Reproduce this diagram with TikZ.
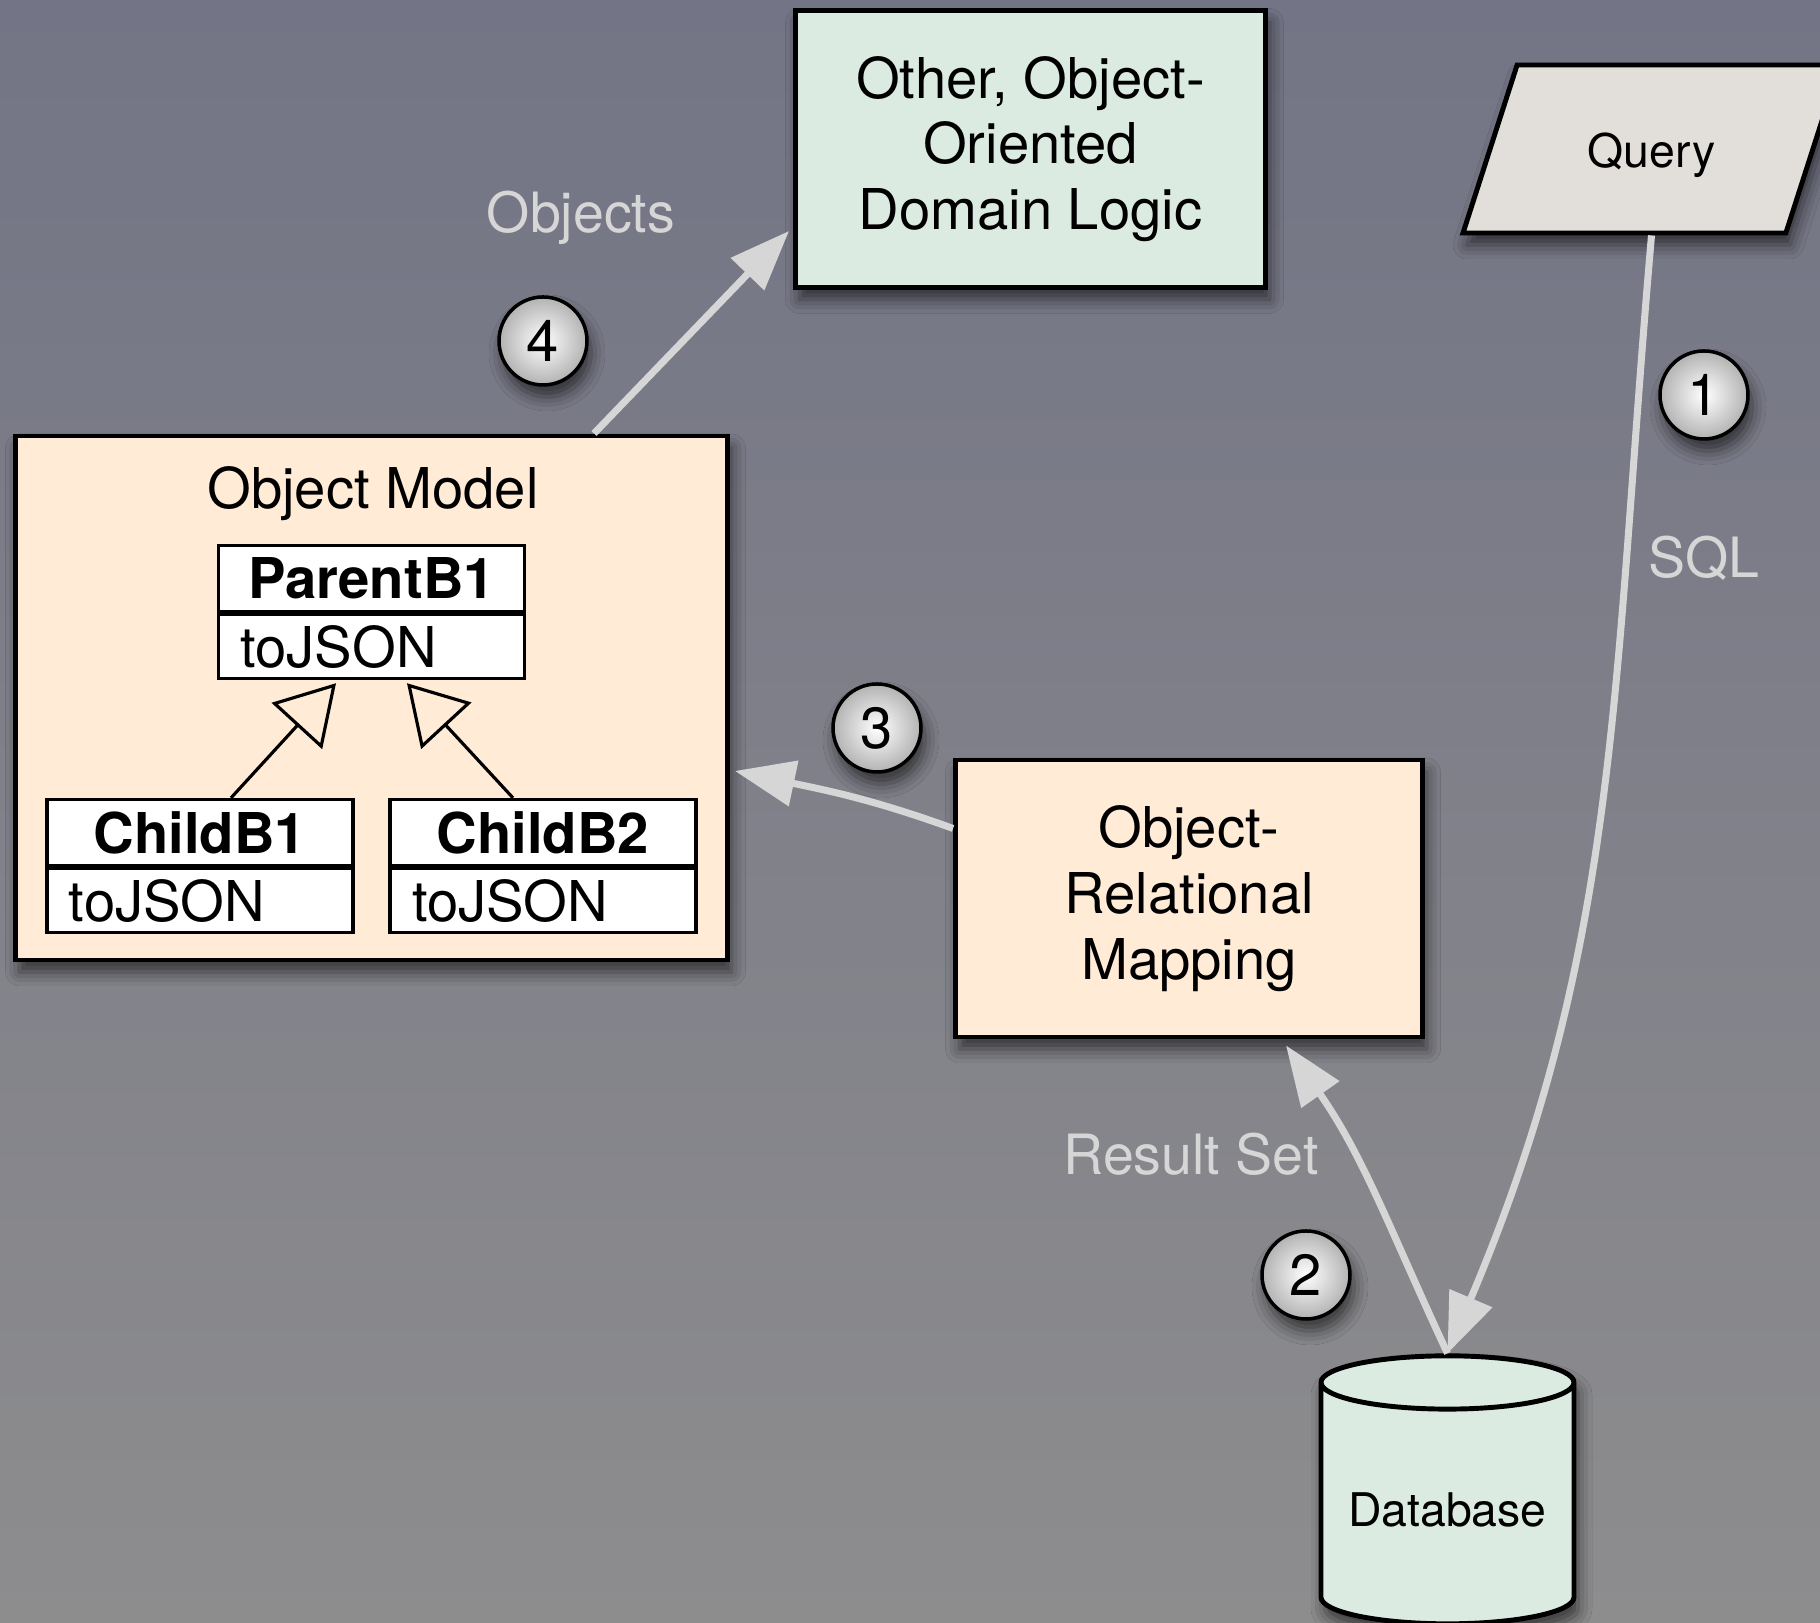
\documentclass[tikz,border=0pt]{standalone}
\usepackage{fontspec}
\setmainfont{TeX Gyre Heros}
\usetikzlibrary{positioning}
\usetikzlibrary{shapes.geometric}
\usetikzlibrary{arrows.meta}
\usetikzlibrary{shadows.blur}
\definecolor{bgtop}{RGB}{115,116,133}
\definecolor{bgbot}{RGB}{141,141,142}
\definecolor{peach}{RGB}{255,235,214}
\definecolor{mint}{RGB}{219,235,225}
\definecolor{querygrey}{RGB}{226,223,218}
\definecolor{flowgrey}{RGB}{214,214,214}
\tikzset{
  shade/.style={blur shadow={shadow xshift=0.04cm, shadow yshift=-0.12cm, shadow blur radius=0.14cm, shadow opacity=60}},
  box/.style={draw, line width=1.4pt, align=center, shade, font=\fontsize{16}{18.7}\selectfont},
  classhead/.style={draw, fill=white, line width=0.9pt, minimum width=3.06cm, minimum height=0.66cm, inner sep=0pt, font=\bfseries\fontsize{16}{16}\selectfont},
  classbody/.style={draw, fill=white, line width=0.9pt, minimum width=3.06cm, minimum height=0.64cm, inner xsep=0.22cm, inner ysep=0pt, text width=2.62cm, align=left, font=\fontsize{16}{16}\selectfont},
  badge/.style={circle, draw, line width=1pt, minimum size=0.88cm, inner sep=0pt, inner color=white, outer color=black!30, shade, font=\fontsize{16.5}{16.5}\selectfont},
  note/.style={text=flowgrey, anchor=base, font=\fontsize{15.8}{15.8}\selectfont},
  flow/.style={draw=flowgrey, line width=2pt, -{Triangle[length=0.6cm, width=0.45cm]}},
  inherit/.style={line width=0.9pt, -{Triangle[open, length=0.58cm, width=0.68cm]}}
}
\newcommand{\umlclass}[4]{ \node[classhead] (#1) at (#2) {#3}; \node[classbody, below=0pt of #1] (#1b) {#4};}
\newcommand{\stepmark}[3]{ \node[badge] (#1) at (#2) {#3};}

\begin{document}
\begin{tikzpicture}
        % background
        \clip (0,0) rectangle (18.2,16.23);
        \shade[top color=bgtop, bottom color=bgbot] (0,0) rectangle (18.2,16.23);
        % boxes
        \node[box, fill=mint, minimum width=4.70cm, minimum height=2.77cm] (dl) at (10.305,14.74) {Other, Object-\\Oriented\\Domain Logic};
        \node[box, fill=peach, minimum width=4.67cm, minimum height=2.77cm] (orm) at (11.89,7.245) {Object-\\Relational\\Mapping};
        \node[box, fill=peach, minimum width=7.12cm, minimum height=5.24cm] (om) at (3.715,9.25) {};
        \node[box, fill=querygrey, trapezium, trapezium left angle=66, trapezium right angle=114, trapezium stretches=true, minimum width=3.77cm, minimum height=1.68cm, font=\fontsize{13.2}{13.2}\selectfont] (query) at (16.515,14.74) {\raisebox{-0.06cm}[\height][\depth]{Query}};
        \node[box, fill=mint, cylinder, shape border rotate=90, aspect=0.24, minimum width=2.53cm, minimum height=2.68cm, font=\fontsize{13.2}{13.2}\selectfont] (db) at (14.475,1.13) {Database};
        % object model
        \node[anchor=base, font=\fontsize{16}{16}\selectfont] (omtitle) at (3.73,11.14) {Object Model};
        \umlclass{pb}{3.715,10.445}{ParentB1}{toJSON}
        \umlclass{cbone}{2.00,7.905}{ChildB1}{toJSON}
        \umlclass{cbtwo}{5.43,7.905}{ChildB2}{toJSON}
        \draw[inherit] ([xshift=0.31cm]cbone.north) -- ([xshift=-0.355cm, yshift=-0.03cm]pbb.south);
        \draw[inherit] ([xshift=-0.30cm]cbtwo.north) -- ([xshift=0.355cm, yshift=-0.03cm]pbb.south);
        % flow
        \draw[flow] (query.south) to[out=-95, in=67] (db.north);
        \draw[flow] (db.north) to[out=115, in=-55] ([xshift=0.97cm, yshift=-0.06cm]orm.south);
        \draw[flow] ([yshift=0.7cm]orm.west) to[out=160, in=-12] ([xshift=0.05cm, yshift=-0.73cm]om.east);
        \draw[flow] ([xshift=2.225cm]om.north) -- ([xshift=-0.04cm, yshift=-0.82cm]dl.west);
        % labels
        \node[note] (objects) at (5.81,13.90) {Objects};
        \node[note] (sql) at (17.04,10.45) {SQL};
        \node[note] (resultset) at (11.91,4.48) {Result Set};
        % steps
        \stepmark{sone}{17.04,12.28}{1}
        \stepmark{stwo}{13.06,3.48}{2}
        \stepmark{sthree}{8.77,8.95}{3}
        \stepmark{sfour}{5.43,12.82}{4}
\end{tikzpicture}
\end{document}
